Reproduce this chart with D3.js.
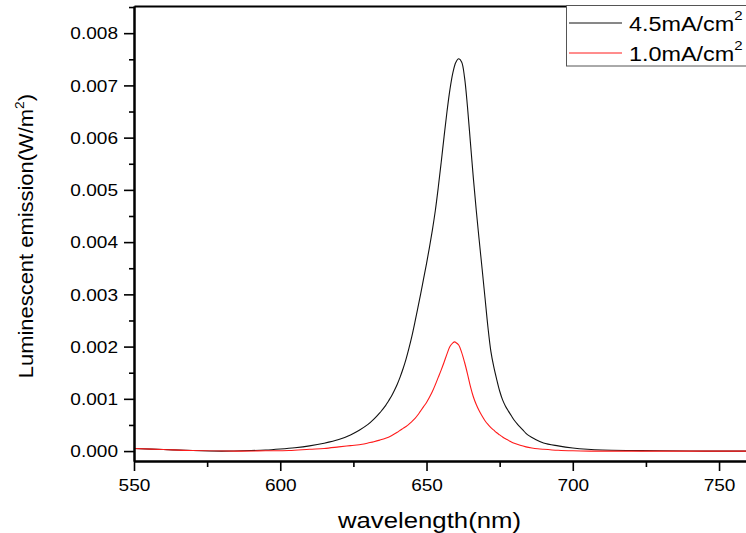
<!DOCTYPE html>
<html>
<head>
<meta charset="utf-8">
<script src="https://cdn.jsdelivr.net/npm/d3@7/dist/d3.min.js"></script>
<style>
  html, body { margin: 0; padding: 0; background: #ffffff; }
  svg { display: block; }
  text { font-family: "Liberation Sans", Arial, sans-serif; fill: #000; }
</style>
</head>
<body>
<svg id="chart" width="746" height="533"></svg>
<script>
// Electroluminescence spectra at two current densities
const seriesNames = ["4.5mA/cm", "1.0mA/cm"];
const seriesColors = ["#111111", "#ff1a1a"];

// 4.5 mA/cm² spectrum: wavelength (nm) and emission (W/m²)
const nmHigh = [550, 560, 570, 580, 590, 595, 600, 605, 610, 615, 620, 624, 627, 630, 632, 634,
  635, 636, 637, 638, 639, 640, 641, 642, 643, 644, 645, 646, 647, 648, 649, 650, 651, 652, 653,
  654, 655, 656, 657, 658, 659, 660, 661, 662, 663, 664, 665, 666, 667, 668, 669, 670, 671, 672,
  673, 674, 675, 676, 677, 678, 679, 680, 681, 682, 683, 684, 685, 687, 690, 695, 700, 705, 710,
  720, 730, 745, 760];
const lumHigh = [0.00005, 0.00003, 0.00001, 0.0, 0.00001, 0.00002, 0.00004, 0.000065, 0.0001,
  0.00015, 0.00022, 0.00031, 0.0004, 0.00051, 0.00061, 0.00073, 0.0008, 0.00087, 0.00096, 0.00105,
  0.00116, 0.00128, 0.00142, 0.00158, 0.00176, 0.00197, 0.0022, 0.00246, 0.00273, 0.00301, 0.0033,
  0.00359, 0.0039, 0.00423, 0.0046, 0.00504, 0.00552, 0.00602, 0.0065, 0.00692, 0.00724, 0.00744,
  0.00751, 0.00745, 0.00715, 0.00659, 0.00591, 0.00523, 0.00461, 0.00404, 0.00349, 0.00293,
  0.00237, 0.00191, 0.00161, 0.00137, 0.00115, 0.00098, 0.00086, 0.000765, 0.000675, 0.00059,
  0.00052, 0.00046, 0.0004, 0.00034, 0.000295, 0.00023, 0.000155, 0.0001, 0.00006, 0.000035,
  0.00002, 0.00001, 0.000005, 0.0, 0.0];

// 1.0 mA/cm² spectrum
const nmLow = [550, 560, 570, 585, 595, 603, 610, 615, 620, 624, 628, 630, 632, 634, 636, 638,
  640, 641, 642, 643, 644, 645, 646, 647, 648, 649, 650, 651, 652, 653, 654, 655, 656, 657, 658,
  659, 659.6, 660, 661, 662, 663, 664, 665, 666, 667, 668, 669, 670, 671, 672, 673, 674, 675, 676,
  677, 678, 679, 680, 682, 684, 686, 688, 690, 695, 700, 706, 730, 760];
const lumLow = [0.00005, 0.00003, 0.00001, 0.0, 0.000005, 0.00001, 0.000035, 0.00005, 0.00008,
  0.000105, 0.00013, 0.000155, 0.00018, 0.00021, 0.000245, 0.000295, 0.00036, 0.0004, 0.000435,
  0.00047, 0.000515, 0.000565, 0.00062, 0.00069, 0.00077, 0.00085, 0.00093, 0.00103, 0.00114,
  0.00127, 0.00141, 0.00155, 0.0017, 0.00186, 0.002, 0.00207, 0.00209, 0.00208, 0.00203, 0.00189,
  0.0017, 0.00148, 0.00124, 0.00104, 0.00089, 0.00077, 0.00067, 0.00058, 0.00051, 0.00045, 0.0004,
  0.00035, 0.00031, 0.00027, 0.000235, 0.000205, 0.000175, 0.00015, 0.00011, 0.00008, 0.00006,
  0.000045, 0.000035, 0.000015, 0.000005, 0.0, 0.0, 0.0];

// Axis ticks
const xMajorTicks = [550, 600, 650, 700, 750];
const xMinorTicks = [575, 625, 675, 725];
const yMajorTicks = [0, 0.001, 0.002, 0.003, 0.004, 0.005, 0.006, 0.007, 0.008];
const yMinorTicks = [0.0005, 0.0015, 0.0025, 0.0035, 0.0045, 0.0055, 0.0065, 0.0075, 0.0085];

const xTitle = "wavelength(nm)";
const yTitle = "Luminescent emission(W/m";

const svg = d3.select("#chart");
const plotLeft = 134, plotRight = 748.3, plotTop = 6, plotBottom = 461;

const x = d3.scaleLinear().domain([550, 760]).range([plotLeft, plotRight]);
const y = d3.scaleLinear().domain([-0.00019, 0.00852]).range([plotBottom, plotTop]);

const STRETCH = 1.19; // horizontal widening of label glyphs

// Curves
const line = d3.line()
  .x(d => x(d[0]))
  .y(d => y(d[1]))
  .curve(d3.curveCatmullRom.alpha(0.5));

const series = [
  d3.zip(nmHigh, lumHigh),
  d3.zip(nmLow, lumLow)
];

const plot = svg.append("g");
plot.append("clipPath").attr("id", "clip")
  .append("rect").attr("x", plotLeft).attr("y", plotTop)
  .attr("width", plotRight - plotLeft).attr("height", plotBottom - plotTop);

plot.selectAll("path.series")
  .data(series)
  .join("path")
  .attr("class", "series")
  .attr("clip-path", "url(#clip)")
  .attr("fill", "none")
  .attr("stroke", (d, i) => seriesColors[i])
  .attr("stroke-width", 1.1)
  .attr("stroke-linejoin", "round")
  .attr("d", line);

// Bottom axis
const xAxis = svg.append("g").attr("transform", `translate(0,${plotBottom})`)
  .call(d3.axisBottom(x).tickValues(xMajorTicks).tickSize(10).tickSizeOuter(0).tickPadding(10).tickFormat(d3.format("d")));
svg.append("g").attr("transform", `translate(0,${plotBottom})`)
  .call(d3.axisBottom(x).tickValues(xMinorTicks).tickSize(6).tickSizeOuter(0).tickFormat(""));

// Left axis
const yAxis = svg.append("g").attr("transform", `translate(${plotLeft},0)`)
  .call(d3.axisLeft(y).tickValues(yMajorTicks).tickSize(10).tickSizeOuter(0).tickFormat(d3.format(".3f")));
svg.append("g").attr("transform", `translate(${plotLeft},0)`)
  .call(d3.axisLeft(y).tickValues(yMinorTicks).tickSize(5).tickSizeOuter(0).tickFormat(""));

// Top and right frame lines
svg.append("g").attr("transform", `translate(0,${plotTop})`)
  .call(d3.axisTop(x).tickValues([]).tickSizeOuter(0));
svg.append("g").attr("transform", `translate(${plotRight},0)`)
  .call(d3.axisRight(y).tickValues([]).tickSizeOuter(0));

svg.selectAll(".domain").attr("stroke", "#000").attr("stroke-width", 2);
svg.selectAll(".tick line").attr("stroke", "#000").attr("stroke-width", 1.6);

xAxis.selectAll(".tick text")
  .attr("font-size", 16)
  .attr("font-family", "Liberation Sans, Arial, sans-serif")
  .attr("fill", "#000")
  .attr("y", 0)
  .attr("dy", 0)
  .attr("transform", `translate(0,30) scale(${STRETCH},1)`);

yAxis.selectAll(".tick text")
  .attr("font-size", 16)
  .attr("font-family", "Liberation Sans, Arial, sans-serif")
  .attr("fill", "#000")
  .attr("x", 0)
  .attr("dy", "0.36em")
  .attr("transform", `translate(-16,0) scale(${STRETCH},1)`);

// Axis titles
svg.append("text")
  .attr("transform", `translate(${(plotLeft + 725) / 2},528) scale(1.17,1)`)
  .attr("text-anchor", "middle")
  .attr("font-size", 22)
  .text(xTitle);

const yt = svg.append("text")
  .attr("transform", `translate(33,236) rotate(-90) scale(1.07,1)`)
  .attr("text-anchor", "middle")
  .attr("font-size", 20.5);
yt.append("tspan").text(yTitle);
yt.append("tspan").attr("font-size", 13).attr("dy", -9).text("2");
yt.append("tspan").attr("dy", 9).text(")");

// Legend
const legend = svg.append("g");
legend.append("rect")
  .attr("x", 566.5).attr("y", 5.5).attr("width", 200).attr("height", 60.5)
  .attr("fill", "#ffffff").attr("stroke", "#555").attr("stroke-width", 1);

const rows = [23, 53];
seriesNames.forEach((name, i) => {
  legend.append("line")
    .attr("x1", 569).attr("x2", 622)
    .attr("y1", rows[i]).attr("y2", rows[i])
    .attr("stroke", seriesColors[i]).attr("stroke-width", 1);
  const t = legend.append("text")
    .attr("transform", `translate(629,${rows[i] + 7.5}) scale(1.2,1)`)
    .attr("font-size", 19.5);
  t.append("tspan").text(name);
  t.append("tspan").attr("font-size", 12.5).attr("dy", -11).text("2");
});
</script>
</body>
</html>
